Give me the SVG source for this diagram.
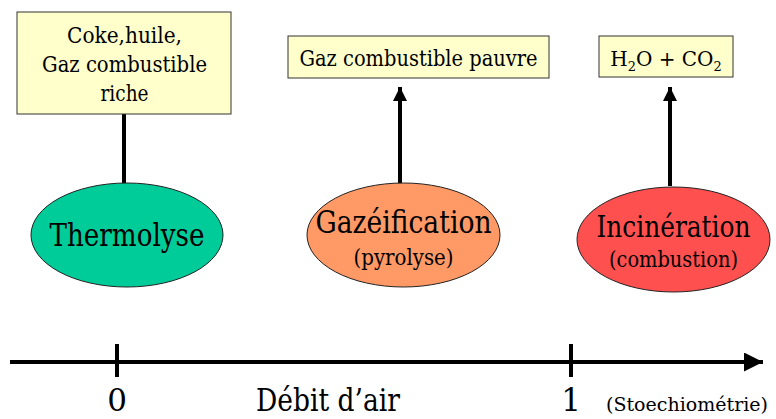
<svg xmlns="http://www.w3.org/2000/svg" width="776" height="419" viewBox="0 0 776 419">
<style>
text{font-family:'DejaVu Serif','Liberation Serif',serif;fill:#000}
.box{fill:#FFFFCC;stroke:#333;stroke-width:1}
.ell{stroke:#222;stroke-width:1}
.big{font-size:31px}
.med{font-size:23px}
.conn{stroke:#000;stroke-width:4;fill:none}
</style>
<defs>
<marker id="ah" viewBox="0 0 10 10" refX="10" refY="5" markerWidth="14" markerHeight="14" markerUnits="userSpaceOnUse" orient="auto">
<path d="M0,0 L10,5 L0,10 z" fill="#000"/>
</marker>
<marker id="ah2" viewBox="0 0 10 10" refX="10" refY="5" markerWidth="19" markerHeight="19" markerUnits="userSpaceOnUse" orient="auto">
<path d="M0,0 L10,5 L0,10 z" fill="#000"/>
</marker>
</defs>
<g id="connectors">
<line class="conn" x1="124" y1="114" x2="124" y2="184"/>
<line class="conn" x1="400" y1="184" x2="400" y2="87" marker-end="url(#ah)"/>
<line class="conn" x1="670" y1="186" x2="670" y2="87" marker-end="url(#ah)"/>
</g>
<g id="box-coke">
<rect class="box" x="17" y="12" width="214" height="102"/>
<text class="med" x="124.5" y="43" text-anchor="middle" textLength="115" lengthAdjust="spacingAndGlyphs">Coke,huile,</text>
<text class="med" x="124.5" y="72" text-anchor="middle" textLength="165" lengthAdjust="spacingAndGlyphs">Gaz combustible</text>
<text class="med" x="124.5" y="101" text-anchor="middle" textLength="48" lengthAdjust="spacingAndGlyphs">riche</text>
</g>
<g id="box-gaz">
<rect class="box" x="288" y="36" width="261" height="42"/>
<text class="med" x="418.5" y="66" text-anchor="middle" textLength="238" lengthAdjust="spacingAndGlyphs">Gaz combustible pauvre</text>
</g>
<g id="box-h2o">
<rect class="box" x="599" y="36" width="134" height="41"/>
<text x="666" y="66" font-size="20" text-anchor="middle">H<tspan font-size="13" dy="5">2</tspan><tspan dy="-5">O + CO</tspan><tspan font-size="13" dy="5">2</tspan></text>
</g>
<g id="thermolyse">
<ellipse class="ell" cx="127" cy="235" rx="96" ry="52" fill="#00CC99"/>
<text class="big" x="127" y="246" text-anchor="middle" textLength="155" lengthAdjust="spacingAndGlyphs">Thermolyse</text>
</g>
<g id="gazeification">
<ellipse class="ell" cx="403.5" cy="235" rx="96.5" ry="52" fill="#FF9966"/>
<text class="big" x="403.5" y="233" text-anchor="middle" textLength="176" lengthAdjust="spacingAndGlyphs">Gazéification</text>
<text class="med" x="403.5" y="265" text-anchor="middle" textLength="100" lengthAdjust="spacingAndGlyphs">(pyrolyse)</text>
</g>
<g id="incineration">
<ellipse class="ell" cx="673.5" cy="239.5" rx="96.5" ry="52.5" fill="#FF5050"/>
<text x="673.5" y="237" font-size="29" text-anchor="middle" textLength="154" lengthAdjust="spacingAndGlyphs">Incinération</text>
<text class="med" x="673.5" y="267" text-anchor="middle" textLength="129" lengthAdjust="spacingAndGlyphs">(combustion)</text>
</g>
<g id="axis">
<line class="conn" x1="10" y1="362" x2="763" y2="362" marker-end="url(#ah2)"/>
<line class="conn" x1="117" y1="344" x2="117" y2="377"/>
<line class="conn" x1="571" y1="344" x2="571" y2="377"/>
<text class="big" x="117" y="411" text-anchor="middle">0</text>
<text class="big" x="328" y="411" text-anchor="middle" textLength="144" lengthAdjust="spacingAndGlyphs">Débit d’air</text>
<text class="big" x="571" y="411" text-anchor="middle">1</text>
<text x="606" y="411" font-size="19" textLength="162" lengthAdjust="spacingAndGlyphs">(Stoechiométrie)</text>
</g>
</svg>
